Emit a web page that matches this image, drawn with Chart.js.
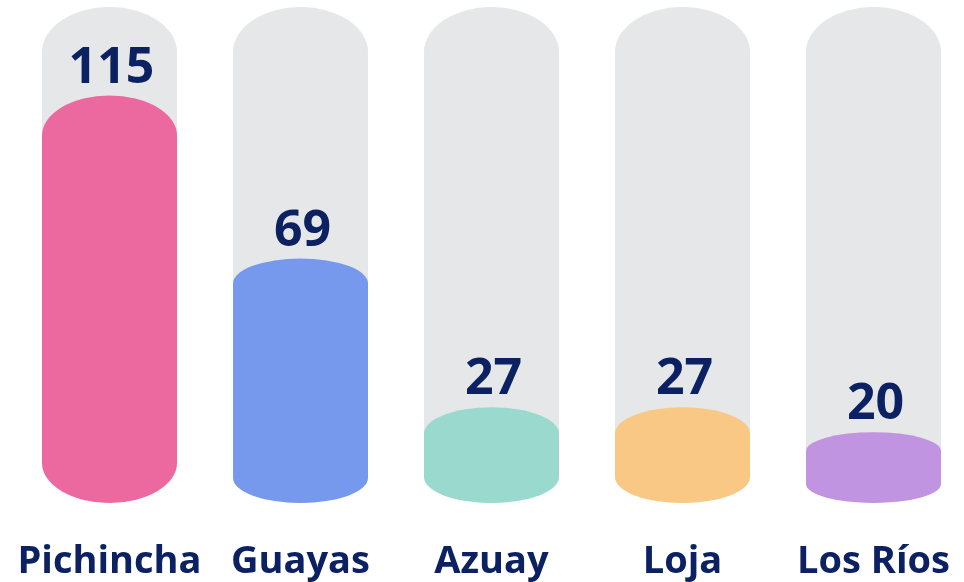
<!DOCTYPE html>
<html>
<head>
<meta charset="utf-8">
<script src="https://cdn.jsdelivr.net/npm/chart.js@4/dist/chart.umd.min.js"></script>
<style>
  html, body { margin: 0; padding: 0; background: #fff; overflow: hidden; }
  #wrap { width: 969px; height: 582px; }
</style>
</head>
<body>
<div id="wrap"><canvas id="chart"></canvas></div>
<script>
const provinces = ['Pichincha', 'Guayas', 'Azuay', 'Loja', 'Los Ríos'];
const counts = [115, 69, 27, 27, 20];
const trackMax = 140;

const barColors = ['#ec699f', '#7699ee', '#9adace', '#f8c884', '#c194e2'];
const capHeights = [40, 25, 26, 26, 19];
const trackCap = 45;
const navy = '#0b2161';

function capsule(ctx, x, top, base, w, ry) {
  const rx = w / 2;
  ry = Math.min(ry, (base - top) / 2);
  ctx.beginPath();
  ctx.moveTo(x - rx, top + ry);
  ctx.ellipse(x, top + ry, rx, ry, 0, Math.PI, 2 * Math.PI);
  ctx.lineTo(x + rx, base - ry);
  ctx.ellipse(x, base - ry, rx, ry, 0, 0, Math.PI);
  ctx.closePath();
  ctx.fill();
}

// bars are drawn here as ellipse-capped columns, using the library's element positions
const capsuleBars = {
  id: 'capsuleBars',
  afterDatasetsDraw(chart) {
    const ctx = chart.ctx;
    const track = chart.getDatasetMeta(0).data;
    const bars = chart.getDatasetMeta(1).data;
    ctx.save();
    track.forEach((el) => {
      ctx.fillStyle = '#e6e7e9';
      capsule(ctx, el.x, el.y, el.base, el.width, trackCap);
    });
    bars.forEach((el, i) => {
      ctx.fillStyle = barColors[i];
      capsule(ctx, el.x, el.y, el.base, el.width, capHeights[i]);
    });
    ctx.fillStyle = navy;
    ctx.font = 'bold 50px "Open Sans"';
    ctx.textAlign = 'center';
    ctx.textBaseline = 'alphabetic';
    bars.forEach((el, i) => {
      ctx.fillText(String(counts[i]), el.x + 2, el.y - 13);
    });
    ctx.restore();
  },
};

new Chart(document.getElementById('chart'), {
  type: 'bar',
  data: {
    labels: provinces,
    datasets: [
      {
        data: provinces.map(() => trackMax),
        backgroundColor: 'rgba(0,0,0,0)',
        grouped: false,
        barThickness: 135,
      },
      {
        data: counts,
        backgroundColor: 'rgba(0,0,0,0)',
        grouped: false,
        barThickness: 135,
      },
    ],
  },
  options: {
    animation: false,
    responsive: true,
    maintainAspectRatio: false,
    layout: {
      padding: { top: 7, left: 14, right: 0, bottom: 0 },
    },
    scales: {
      x: {
        grid: { display: false },
        border: { display: false },
        afterFit: (scale) => {
          scale.height = 79;
          scale.paddingLeft = 0;
          scale.paddingRight = 0;
        },
        ticks: {
          color: navy,
          padding: 28,
          autoSkip: false,
          maxRotation: 0,
          font: { family: '"Open Sans"', size: 38, weight: 'bold' },
        },
      },
      y: {
        display: false,
        min: 0,
        max: trackMax,
      },
    },
    plugins: {
      legend: { display: false },
      tooltip: { enabled: false },
    },
  },
  plugins: [capsuleBars],
});
</script>
</body>
</html>
